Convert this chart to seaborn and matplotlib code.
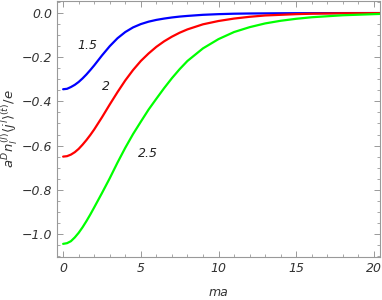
import numpy as np
import pandas as pd
import matplotlib
matplotlib.use("Agg")
import matplotlib.pyplot as plt
import seaborn as sns
from matplotlib.ticker import MultipleLocator

# values
ma = [0, 0.25, 0.5, 0.75, 1, 1.25, 1.5, 1.75, 2, 2.5, 3, 3.5, 4, 4.5, 5, 5.5,
      6, 6.5, 7, 7.5, 8, 9, 10, 11, 12, 13, 14, 15, 16, 18, 20, 20.4]
curve_15 = [-0.345, -0.343, -0.335, -0.325, -0.312, -0.296, -0.278, -0.258,
            -0.237, -0.192, -0.150, -0.114, -0.086, -0.065, -0.050, -0.039,
            -0.031, -0.025, -0.020, -0.016, -0.013, -0.008, -0.005,
            -0.003, -0.002, -0.0015, -0.001, -0.0007, -0.0005, -0.0002, 0.0, 0.0]
curve_2 = [-0.650, -0.648, -0.641, -0.630, -0.615, -0.596, -0.575, -0.552,
           -0.527, -0.472, -0.414, -0.358, -0.305, -0.258, -0.217, -0.183,
           -0.153, -0.128, -0.107, -0.089, -0.074, -0.051, -0.036,
           -0.025, -0.017, -0.011, -0.008, -0.005, -0.003, -0.001, -0.0005, -0.0004]
curve_25 = [-1.045, -1.042, -1.033, -1.016, -0.995, -0.970, -0.942, -0.912,
            -0.880, -0.815, -0.748, -0.677, -0.610, -0.548, -0.492, -0.437,
            -0.388, -0.340, -0.295, -0.254, -0.217, -0.160, -0.118,
            -0.086, -0.064, -0.047, -0.035, -0.026, -0.019, -0.010, -0.005, -0.004]
labels = ["1.5", "2", "2.5"]
label_pos = [(1.56, -0.145), (2.75, -0.332), (5.49, -0.635)]

df = pd.concat([
    pd.DataFrame({"ma": ma, "val": curve_15, "curve": "1.5"}),
    pd.DataFrame({"ma": ma, "val": curve_2, "curve": "2"}),
    pd.DataFrame({"ma": ma, "val": curve_25, "curve": "2.5"}),
])

sns.set_style("ticks")
plt.rcParams["font.family"] = ["DejaVu Sans"]
plt.rcParams["mathtext.fontset"] = "dejavusans"

fig = plt.figure(figsize=(3.82, 3.0), dpi=100)
ax = fig.add_axes([0.149, 0.143, 0.846, 0.854])

sns.lineplot(data=df, x="ma", y="val", hue="curve",
             palette={"1.5": "#0000ff", "2": "#ff0000", "2.5": "#00ff00"},
             linewidth=1.6, legend=False, ax=ax)

for lab, (lx, ly) in zip(labels, label_pos):
    ax.text(lx, ly, lab, fontsize=9, style="italic", color="#222222",
            ha="center", va="center")

ax.set_xlim(-0.4, 20.4)
ax.set_ylim(-1.105, 0.055)
ax.xaxis.set_minor_locator(MultipleLocator(1))
ax.yaxis.set_minor_locator(MultipleLocator(0.05))
ax.set_xticks([0, 5, 10, 15, 20])
ax.set_xticklabels(["0", "5", "10", "15", "20"])
ax.set_yticks([0.0, -0.2, -0.4, -0.6, -0.8, -1.0])
ax.set_yticklabels(["0.0", "\u22120.2", "\u22120.4", "\u22120.6", "\u22120.8", "\u22121.0"])

ax.tick_params(which="both", direction="in", top=True, right=True,
               color="#999999", labelsize=9, labelcolor="#333333")
ax.tick_params(which="major", length=4.5, width=0.7)
ax.tick_params(which="minor", length=2.5, width=0.6)
for lab in ax.get_xticklabels() + ax.get_yticklabels():
    lab.set_style("italic")
for sp in ax.spines.values():
    sp.set_color("#999999")
    sp.set_linewidth(0.8)

ax.set_xlabel("ma", fontsize=9, style="italic", color="#333333", labelpad=8)
ax.set_ylabel(r"$a^D n_l^{(l)}\langle j^l\rangle^{(t)}/e$", fontsize=9.5,
              color="#333333", labelpad=1)

fig.savefig("out.png", dpi=100)
